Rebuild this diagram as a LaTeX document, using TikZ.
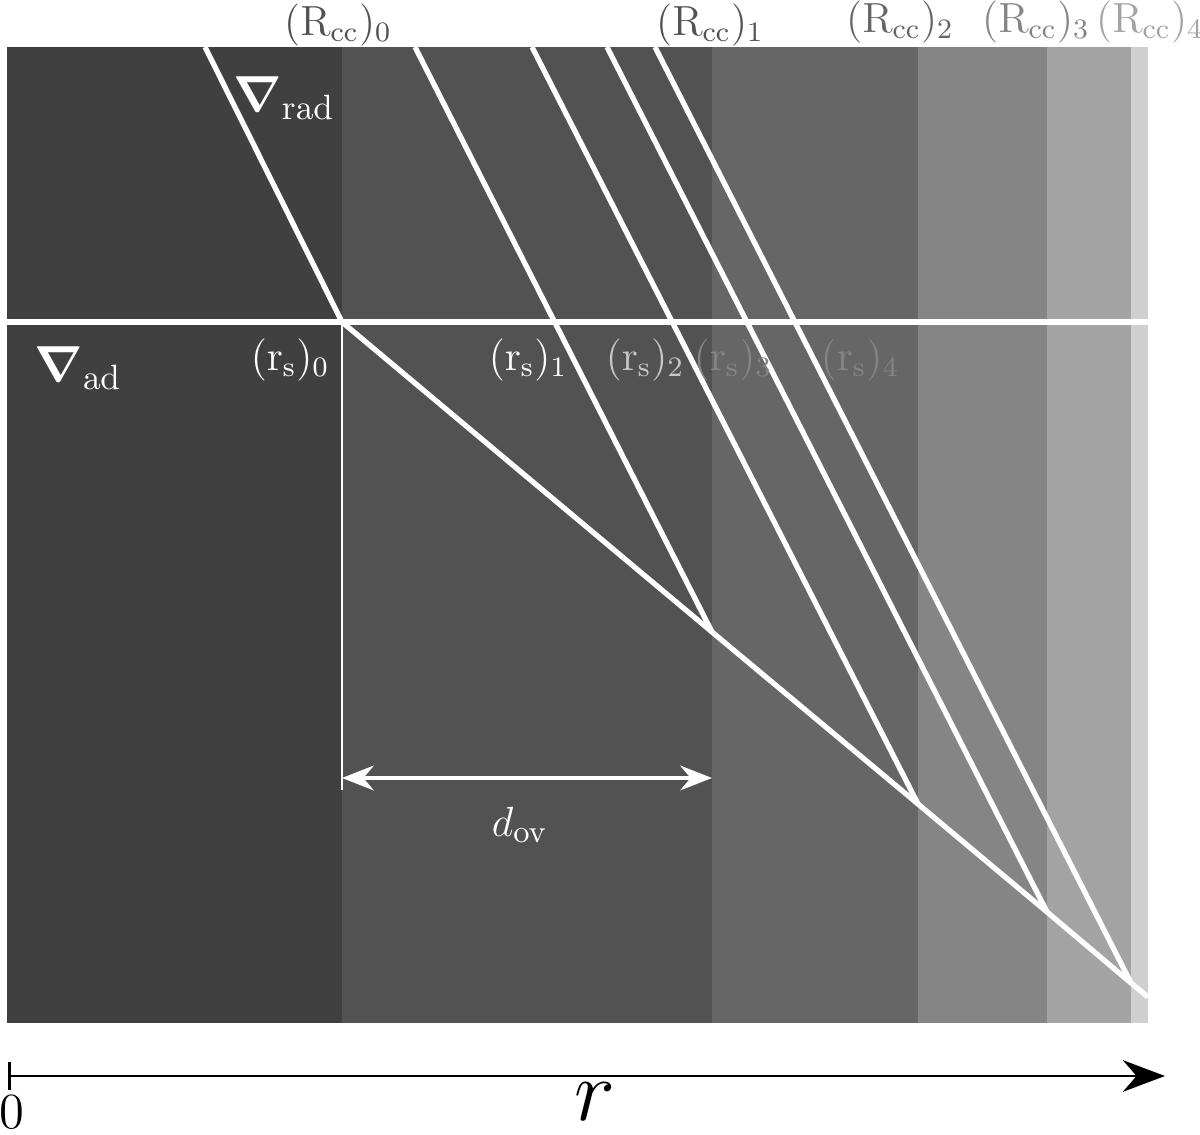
\documentclass[tikz,border=0pt]{standalone}
\usepackage{amsmath}
\usepackage{bm}
\usetikzlibrary{arrows.meta}
\tikzset{>=Stealth}
\definecolor{zoneA}{RGB}{64,64,64}
\definecolor{zoneB}{RGB}{82,82,82}
\definecolor{zoneC}{RGB}{102,102,102}
\definecolor{zoneD}{RGB}{133,133,133}
\definecolor{zoneE}{RGB}{163,163,163}
\definecolor{zoneF}{RGB}{207,207,207}
\tikzstyle{gradline}=[draw=white,line width=1.5pt]
\tikzstyle{thinline}=[draw=white,line width=0.6pt]
\tikzstyle{lbl}=[inner sep=1pt,font=\fontsize{11.5}{14}\selectfont]
\tikzstyle{nablbl}=[inner sep=1pt,white,font=\fontsize{14}{16}\selectfont]

\begin{document}
\begin{tikzpicture}
    \useasboundingbox (0,0) rectangle (12,-11.35);
    % zones
    \fill[zoneA] (0.07,-0.47) rectangle (3.42,-10.23);
    \fill[zoneB] (3.42,-0.47) rectangle (7.12,-10.23);
    \fill[zoneC] (7.12,-0.47) rectangle (9.18,-10.23);
    \fill[zoneD] (9.18,-0.47) rectangle (10.47,-10.23);
    \fill[zoneE] (10.47,-0.47) rectangle (11.31,-10.23);
    \fill[zoneF] (11.31,-0.47) rectangle (11.48,-10.23);

    % corner points
    \coordinate (t0) at (2.05,-0.47);
    \coordinate (t1) at (4.15,-0.47);
    \coordinate (t2) at (5.32,-0.47);
    \coordinate (t3) at (6.07,-0.47);
    \coordinate (t4) at (6.55,-0.47);
    \coordinate (s0) at (3.42,-3.22);
    \coordinate (k1) at (7.12,-6.32);
    \coordinate (k2) at (9.18,-8.04);
    \coordinate (k3) at (10.47,-9.12);
    \coordinate (k4) at (11.31,-9.83);
    \coordinate (adend) at (11.48,-9.97);
    \coordinate (hl) at (0.07,-3.22);
    \coordinate (hr) at (11.5,-3.22);
    \coordinate (vb) at (3.42,-7.9);

    \draw[gradline] (hl) -- (hr);
    \draw[gradline] (t0) -- (s0) -- (k1) -- (k2) -- (k3) -- (k4) -- (adend);
    \draw[gradline] (t1) -- (k1);
    \draw[gradline] (t2) -- (k2);
    \draw[gradline] (t3) -- (k3);
    \draw[gradline] (t4) -- (k4);
    \draw[thinline] (s0) -- (vb);

    % overshoot distance
    \coordinate (dl) at (3.42,-7.78);
    \coordinate (dr) at (7.12,-7.78);
    \draw[white,line width=1.3pt,{Stealth[length=9pt,width=7pt]}-{Stealth[length=9pt,width=7pt]}] (dl) -- (dr);
    \node[lbl,white,font=\fontsize{13}{15}\selectfont] (dov) at (5.2,-8.25) {$d_{\mathrm{ov}}$};

    % gradients
    \node[nablbl] (nrad) at (2.84,-0.98) {$\bm{\nabla}_{\mathrm{rad}}$};
    \node[nablbl] (nad) at (0.78,-3.68) {$\bm{\nabla}_{\mathrm{ad}}$};

    % core radii
    \node[lbl,color=zoneB] (R0) at (3.38,-0.25) {$(\mathrm{R}_{\mathrm{cc}})_0$};
    \node[lbl,color=zoneB] (R1) at (7.10,-0.25) {$(\mathrm{R}_{\mathrm{cc}})_1$};
    \node[lbl,color=zoneC] (R2) at (9.00,-0.22) {$(\mathrm{R}_{\mathrm{cc}})_2$};
    \node[lbl,color=zoneD] (R3) at (10.36,-0.22) {$(\mathrm{R}_{\mathrm{cc}})_3$};
    \node[lbl,color=zoneE] (R4) at (11.50,-0.22) {$(\mathrm{R}_{\mathrm{cc}})_4$};

    % Schwarzschild boundaries
    \node[lbl,white] (r0) at (2.90,-3.6) {$(\mathrm{r}_{\mathrm{s}})_0$};
    \node[lbl,white] (r1) at (5.28,-3.6) {$(\mathrm{r}_{\mathrm{s}})_1$};
    \node[lbl,color=white!78!black] (r2) at (6.45,-3.6) {$(\mathrm{r}_{\mathrm{s}})_2$};
    \node[lbl,color=zoneD] (r3) at (7.33,-3.6) {$(\mathrm{r}_{\mathrm{s}})_3$};
    \node[lbl,color=zoneD] (r4) at (8.60,-3.6) {$(\mathrm{r}_{\mathrm{s}})_4$};

    % radius axis
    \coordinate (ax0) at (0.08,-10.76);
    \coordinate (ax1) at (11.65,-10.76);
    \draw[line width=0.8pt,{Bar[width=8pt]}-{Stealth[length=12pt,width=9pt]}] (ax0) -- (ax1);
    \node[font=\Large,inner sep=1pt] (zero) at (0.12,-11.12) {0};
    \node[font=\fontsize{30}{32}\selectfont,inner sep=1pt] (rlab) at (5.95,-11.02) {$r$};
\end{tikzpicture}
\end{document}
